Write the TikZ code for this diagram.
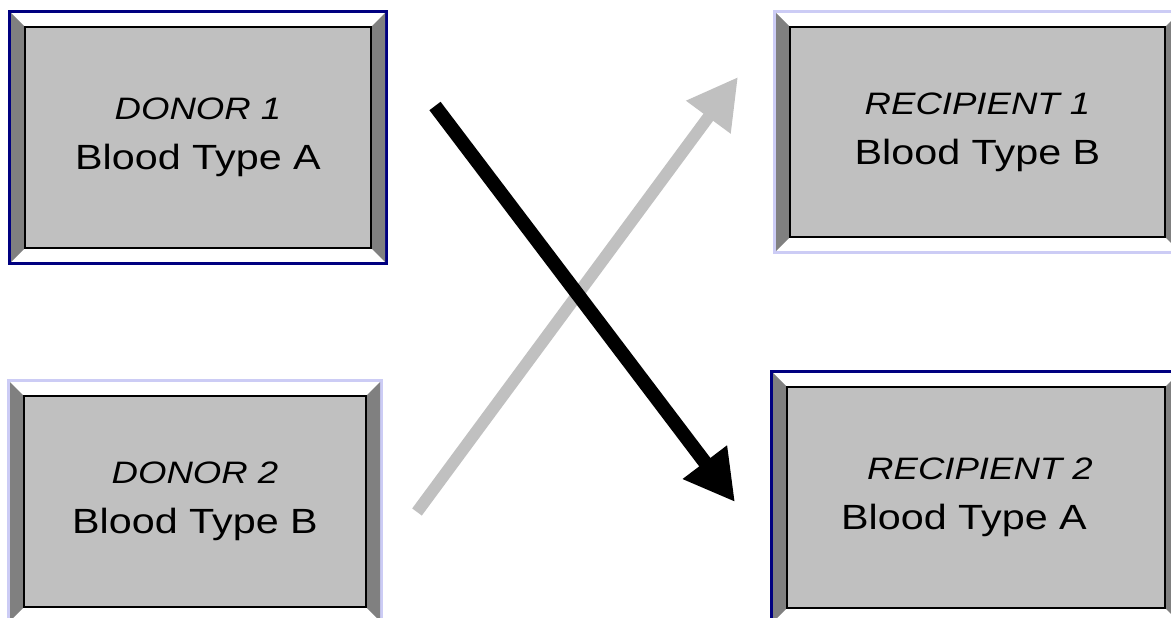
\documentclass[tikz,border=0pt]{standalone}
\usepackage{fontspec}
\setmainfont{Liberation Sans}[FakeStretch=1.18]
\usepackage{tikz}
\usetikzlibrary{arrows.meta, backgrounds, calc}

\definecolor{facegray}{RGB}{192,192,192}
\definecolor{bevelgray}{RGB}{128,128,128}
\definecolor{navyframe}{RGB}{0,0,128}
\definecolor{lilacframe}{RGB}{204,204,245}
\definecolor{paleshaft}{RGB}{192,192,192}

\tikzset{
  face/.style={draw=black, line width=1.5pt, fill=facegray, inner sep=0pt,
    outer sep=0pt, align=center, font=\fontsize{35}{50}\selectfont},
  shaft/.style={line width=#1, -{Triangle[length=50pt,width=52pt]}}
}

% bevel round a face node: #1 node, #2 frame colour
\newcommand{\bevel}[2]{%
  \begin{pgfonlayer}{background}
    \fill[#2] ($(#1.north west)+(-17,-17)$) rectangle ($(#1.south east)+(17,17)$);
    \fill[white] ($(#1.north west)+(-14,-14)$) rectangle ($(#1.south east)+(14,14)$);
    \fill[bevelgray] ($(#1.north west)+(-14,-14)$) -- (#1.north west) -- (#1.south west)
      -- ($(#1.south west)+(-14,14)$) -- cycle;
    \fill[bevelgray] ($(#1.north east)+(14,-14)$) -- (#1.north east) -- (#1.south east)
      -- ($(#1.south east)+(14,14)$) -- cycle;
  \end{pgfonlayer}}

\begin{document}
\begin{tikzpicture}[x=1pt, y=-1pt]
\useasboundingbox (0,0) rectangle (1171,618);

% boxes
\node[face, minimum width=346pt, minimum height=221pt] (donor1) at (198,137.5)
  {{\fontsize{31}{50}\selectfont\itshape DONOR 1}\\Blood Type A};
\bevel{donor1}{navyframe}
\node[face, minimum width=342pt, minimum height=211pt] (donor2) at (195,501.5)
  {{\fontsize{31}{50}\selectfont\itshape DONOR 2}\\Blood Type B};
\bevel{donor2}{lilacframe}
\node[face, minimum width=375pt, minimum height=210pt] (recip1) at (977.5,132)
  {{\fontsize{31}{50}\selectfont\itshape RECIPIENT 1}\\Blood Type B};
\bevel{recip1}{lilacframe}
\node[face, minimum width=378pt, minimum height=221pt] (recip2) at (976,497.5)
  {\hspace*{8pt}{\fontsize{31}{50}\selectfont\itshape RECIPIENT 2}\\Blood Type A\hspace*{24pt}};
\bevel{recip2}{navyframe}

% arrows
\coordinate (b-start) at (417,512);
\coordinate (b-tip) at (738,77);
\coordinate (a-start) at (435,106);
\coordinate (a-tip) at (735,502);
\draw[paleshaft, shaft=12pt] (b-start) -- (b-tip);
\draw[black, shaft=14pt] (a-start) -- (a-tip);
\end{tikzpicture}
\end{document}
